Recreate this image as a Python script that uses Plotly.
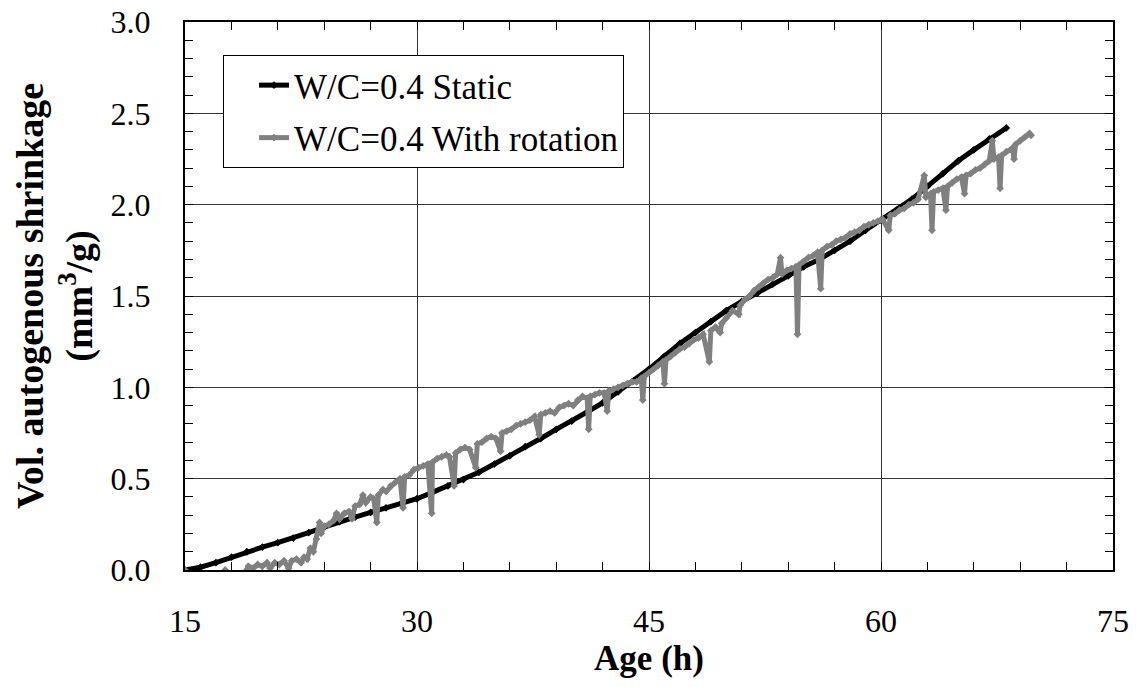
import plotly.graph_objects as go

# Static series (W/C=0.4)
static_age = [15, 16, 17, 18, 19, 20, 21, 22, 23, 24, 25, 26, 27, 28, 29, 30, 31, 32, 33, 34,
              35, 36, 37, 38, 39, 40, 41, 42, 43, 44, 45, 46, 47, 48, 49, 50, 51, 52, 53, 54,
              55, 56, 57, 58, 59, 60, 61, 62, 63, 64, 65, 66, 67, 68.1]
static_vol = [0.0, 0.015, 0.04, 0.07, 0.10, 0.125, 0.15, 0.175, 0.205, 0.235, 0.265, 0.29, 0.315,
              0.34, 0.365, 0.39, 0.425, 0.46, 0.495, 0.535, 0.58, 0.625, 0.675, 0.72, 0.77, 0.815,
              0.865, 0.915, 0.975, 1.035, 1.10, 1.17, 1.24, 1.30, 1.36, 1.42, 1.47, 1.515, 1.565,
              1.61, 1.66, 1.70, 1.75, 1.80, 1.86, 1.915, 1.97, 2.03, 2.10, 2.17, 2.24, 2.30, 2.36, 2.42]

# With rotation series (W/C=0.4)
rot_age = [15.0, 15.4, 17.5, 17.6, 17.7, 18.9, 19.1, 19.4, 19.7, 20.0, 20.3, 20.5, 20.8, 21.1,
           21.4, 21.7, 21.9, 22.2, 22.5, 22.7, 22.9, 23.1, 23.3, 23.5, 23.7, 23.8, 24.0, 24.3,
           24.6, 24.8, 25.0, 25.3, 25.6, 25.8, 26.0, 26.3, 26.5, 26.7, 27.0, 27.2, 27.4, 27.5,
           27.8, 28.0, 28.3, 28.6, 28.9, 29.1, 29.2, 29.5, 29.8, 30.1, 30.4, 30.7, 30.95, 31.0,
           31.3, 31.6, 31.9, 32.1, 32.4, 32.5, 32.8, 33.1, 33.4, 33.8, 33.9, 34.2, 34.5, 34.8,
           35.1, 35.4, 35.5, 35.8, 36.1, 36.4, 36.7, 37.0, 37.3, 37.6, 37.9, 38.0, 38.3, 38.6,
           38.9, 39.2, 39.5, 39.8, 40.1, 40.4, 40.7, 41.0, 41.1, 41.2, 41.5, 41.8, 42.1, 42.3,
           42.4, 42.7, 43.0, 43.3, 43.6, 43.9, 44.2, 44.5, 44.6, 44.7, 45.0, 45.3, 45.6, 45.9,
           46.0, 46.1, 46.4, 46.7, 47.0, 47.3, 47.6, 47.9, 48.2, 48.5, 48.9, 49.0, 49.3, 49.6,
           49.7, 50.0, 50.4, 50.8, 50.9, 51.2, 51.5, 51.8, 52.1, 52.4, 52.7, 53.0, 53.3, 53.5,
           53.6, 53.9, 54.2, 54.5, 54.6, 54.7, 55.0, 55.3, 55.6, 55.9, 56.1, 56.2, 56.5, 56.8,
           57.1, 57.4, 57.7, 58.0, 58.3, 58.6, 58.9, 59.2, 59.5, 59.8, 60.1, 60.5, 60.6, 60.9,
           61.2, 61.5, 61.8, 62.1, 62.4, 62.8, 62.9, 63.2, 63.3, 63.4, 63.7, 64.0, 64.2, 64.3,
           64.6, 64.9, 65.2, 65.4, 65.5, 65.8, 66.1, 66.4, 66.7, 67.0, 67.2, 67.3, 67.6, 67.7,
           67.8, 68.1, 68.5, 68.6, 68.7, 69.0, 69.3, 69.6, 69.7]
rot_vol = [0.00, -0.03, -0.03, 0.00, -0.03, -0.01, 0.02, 0.01, 0.03, 0.02, 0.04, 0.01, 0.04, 0.03,
           0.05, 0.01, 0.05, 0.06, 0.04, 0.07, 0.06, 0.12, 0.10, 0.17, 0.26, 0.20, 0.24, 0.25,
           0.27, 0.31, 0.28, 0.31, 0.32, 0.28, 0.35, 0.36, 0.41, 0.37, 0.40, 0.39, 0.26, 0.41,
           0.44, 0.43, 0.46, 0.48, 0.50, 0.34, 0.51, 0.52, 0.55, 0.56, 0.57, 0.58, 0.31, 0.59,
           0.61, 0.62, 0.63, 0.62, 0.46, 0.64, 0.66, 0.67, 0.66, 0.56, 0.69, 0.70, 0.72, 0.73,
           0.72, 0.65, 0.75, 0.76, 0.77, 0.79, 0.80, 0.81, 0.82, 0.84, 0.74, 0.85, 0.86, 0.87,
           0.86, 0.89, 0.90, 0.91, 0.90, 0.93, 0.95, 0.94, 0.77, 0.95, 0.96, 0.97, 0.97, 0.87,
           0.98, 0.99, 1.00, 1.01, 1.02, 1.03, 1.03, 1.05, 0.93, 1.06, 1.08, 1.10, 1.12, 1.14,
           1.02, 1.15, 1.17, 1.19, 1.21, 1.22, 1.24, 1.26, 1.27, 1.29, 1.14, 1.31, 1.33, 1.30,
           1.35, 1.38, 1.42, 1.40, 1.45, 1.48, 1.50, 1.53, 1.55, 1.57, 1.59, 1.60, 1.62, 1.71,
           1.62, 1.64, 1.65, 1.66, 1.29, 1.67, 1.69, 1.71, 1.72, 1.74, 1.54, 1.75, 1.77, 1.78,
           1.80, 1.81, 1.82, 1.84, 1.85, 1.86, 1.88, 1.89, 1.90, 1.91, 1.92, 1.86, 1.94, 1.95,
           1.97, 1.98, 2.00, 2.01, 2.03, 2.16, 2.04, 2.06, 1.86, 2.07, 2.08, 2.09, 1.97, 2.10,
           2.12, 2.14, 2.15, 2.06, 2.16, 2.17, 2.19, 2.20, 2.22, 2.24, 2.35, 2.25, 2.26, 2.09,
           2.27, 2.29, 2.31, 2.25, 2.33, 2.35, 2.37, 2.39, 2.38]

x_ticks = [15, 30, 45, 60, 75]
y_ticks = [0.0, 0.5, 1.0, 1.5, 2.0, 2.5, 3.0]

FONT = "Liberation Serif, Times New Roman, serif"

fig = go.Figure()
fig.add_trace(go.Scatter(
    x=static_age, y=static_vol, mode="lines+markers", name="W/C=0.4 Static",
    line=dict(color="black", width=5), marker=dict(color="black", size=6, symbol="diamond"),
    legendgroup="a"))
fig.add_trace(go.Scatter(
    x=rot_age, y=rot_vol, mode="lines+markers", name="W/C=0.4 With rotation",
    line=dict(color="#808080", width=5), marker=dict(color="#808080", size=6, symbol="diamond"),
    legendgroup="b"))

axis_common = dict(
    showline=True, linecolor="black", linewidth=2, mirror="allticks",
    ticks="inside", ticklen=8, tickcolor="black", tickwidth=1,
    showgrid=True, gridcolor="#333333", gridwidth=1, zeroline=False,
    tickfont=dict(family=FONT, size=32, color="black"),
    automargin=False, ticklabeloverflow="allow",
)

fig.update_xaxes(
    range=[15, 75], tickvals=x_ticks, ticktext=[str(v) for v in x_ticks],
    minor=dict(dtick=3, ticks="inside", ticklen=8, tickcolor="black", showgrid=False),
    ticklabelstandoff=22,
    title=dict(text="<b>Age (h)</b>", font=dict(family=FONT, size=35, color="black"), standoff=4),
    **axis_common)
fig.update_yaxes(
    range=[0, 3.0], tickvals=y_ticks, ticktext=[f"{v:.1f}" for v in y_ticks],
    minor=dict(dtick=0.1, ticks="inside", ticklen=8, tickcolor="black", showgrid=False),
    ticklabelstandoff=26,
    title=dict(text="<b>Vol. autogenous shrinkage<br>(mm<sup>3</sup>/g)</b>",
               font=dict(family=FONT, size=38, color="black"), standoff=6),
    **axis_common)

fig.update_layout(
    width=1140, height=687,
    margin=dict(l=185, r=27, t=22, b=117),
    paper_bgcolor="white", plot_bgcolor="white",
    font=dict(family=FONT, color="black"),
    legend=dict(
        x=0.041, y=0.94, xanchor="left", yanchor="top",
        bgcolor="white", bordercolor="black", borderwidth=1,
        font=dict(family=FONT, size=35, color="black"),
        itemwidth=30, tracegroupgap=4, traceorder="grouped", indentation=30,
    ),
    showlegend=True,
)

fig.write_html("out.html", config={"displayModeBar": False},
               post_script="document.body.style.margin='0px';")
